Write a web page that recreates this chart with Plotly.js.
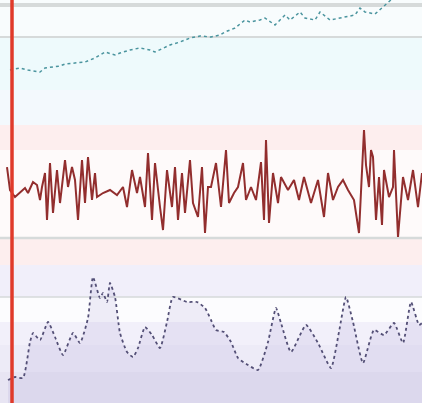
<!DOCTYPE html>
<html><head><meta charset="utf-8">
<script src="https://cdn.plot.ly/plotly-3.0.1.min.js"></script>
<style>html,body{margin:0;padding:0;background:#fff}#c{width:422px;height:403px}</style>
</head><body><div id="c"></div>
<script>
// Top series (teal trend)
const tealX = [10,20,28,40,45,60,65,85,95,100,105,115,120,130,140,150,155,170,180,190,200,211,220,225,235,245,250,260,265,275,285,290,300,305,315,320,330,340,355,360,365,375,385,392];
const tealY = [55,57,55,53,57,59,61,63,67,70,73,70,72,75,77,75,73,80,83,87,89,88,90,93,97,105,103,105,107,100,110,105,113,107,105,113,105,107,110,117,113,111,120,126];

// Middle series (red noise)
const redX = [7,10,15,20,25,28,33,37,40,42,45,47,50,53,57,60,63,65,68,72,75,78,82,85,88,92,95,97,103,110,117,123,127,132,137,140,145,148,152,155,160,163,167,172,175,178,182,185,190,193,198,202,205,208,211,216,221,226,229,234,238,243,246,251,256,261,264,266,269,273,278,281,288,294,299,304,311,318,324,328,333,338,343,348,354,359,364,366,369,371,373,376,379,382,384,389,393,394,398,403,408,413,418,422];
const redY = [28,5,-2,3,7,2,13,10,-5,8,22,-25,32,-18,25,-8,18,35,8,28,15,-25,35,-8,38,-5,22,-2,2,5,0,8,-12,25,2,18,-12,42,-25,32,-12,-35,25,-12,28,-25,22,-18,35,-8,-22,28,-38,8,8,32,-12,45,-8,2,8,32,-5,8,-5,33,-25,55,-28,22,-8,18,5,15,-5,18,-8,15,-22,22,-5,8,15,5,-5,-38,65,30,8,45,38,-25,18,-30,25,-2,8,45,-42,18,-5,25,-12,22,2];

// Bottom series (purple filled)
const purpX = [8,15,23,30,33,40,48,55,63,73,80,88,93,100,103,107,110,115,120,127,133,138,145,152,160,167,173,187,197,205,211,216,224,231,238,248,258,268,276,281,291,306,318,331,339,346,353,363,374,384,394,403,411,419,422];
const purpY = [23,26,25,61,70,63,81,66,48,70,60,85,126,105,110,101,120,106,70,51,46,55,76,68,55,81,106,101,101,95,83,73,71,61,45,38,33,61,95,80,51,78,60,35,71,106,81,40,73,68,80,60,101,78,80];

// Background bands: [from, to, colour] in each panel's own units
const topBands = [[0,35,'#f3f9fd'],[35,88,'#eefafc'],[88,125,'#f8fcfd']];
const midBands = [[-70,-43,'#fdeeee'],[-43,45,'#fefafa'],[45,70,'#fdeeee']];
const botBands = [[0,31,'#e8e5f3'],[31,58,'#edebf7'],[58,81,'#f2f0fa'],[81,106,'#fcfcfe'],[106,138,'#f1effa']];
</script>
<script>
const shapes = [];
function addBands(bands, yref){
  bands.forEach(b => shapes.push({type:'rect', xref:'paper', yref:yref, x0:0, x1:1, y0:b[0], y1:b[1], fillcolor:b[2], line:{width:0}, layer:'below'}));
}
addBands(topBands,'y3'); addBands(midBands,'y2'); addBands(botBands,'y');
function hline(yref, v, w){ shapes.push({type:'line', xref:'paper', yref:yref, x0:0, x1:1, y0:v, y1:v, line:{color:'#d6dada', width:w}, layer:'below'}); }
hline('y3',120,4); hline('y3',88,2); hline('y2',-43,2.5); hline('y',106,1.5);
shapes.push({type:'line', xref:'x', yref:'paper', x0:12, x1:12, y0:0, y1:1, line:{color:'#e03a2a', width:3.5}, layer:'above'});

const traces = [
  {x:tealX, y:tealY, yaxis:'y3', mode:'lines', line:{color:'#4a949e', width:1.5, dash:'dot'}, hoverinfo:'skip'},
  {x:redX, y:redY, yaxis:'y2', mode:'lines', line:{color:'#922e2e', width:2}, hoverinfo:'skip'},
  {x:purpX, y:purpY, yaxis:'y', mode:'lines', fill:'tozeroy', fillcolor:'rgba(140,120,195,0.12)', line:{color:'#534f76', width:1.8, dash:'dot', shape:'spline', smoothing:0.5}, hoverinfo:'skip'}
];
const ax = {showgrid:false, zeroline:false, showticklabels:false, showline:false, ticks:''};
const layout = {
  width:422, height:403, margin:{l:0,r:0,t:0,b:0},
  paper_bgcolor:'#fff', plot_bgcolor:'rgba(0,0,0,0)', showlegend:false,
  xaxis:Object.assign({range:[0,422]}, ax),
  yaxis:Object.assign({domain:[0,0.3424], range:[0,138]}, ax),
  yaxis2:Object.assign({domain:[0.3424,0.6898], range:[-70,70]}, ax),
  yaxis3:Object.assign({domain:[0.6898,1], range:[0,125]}, ax),
  shapes:shapes
};
Plotly.newPlot('c', traces, layout, {staticPlot:true, displayModeBar:false});
</script>
</body></html>
